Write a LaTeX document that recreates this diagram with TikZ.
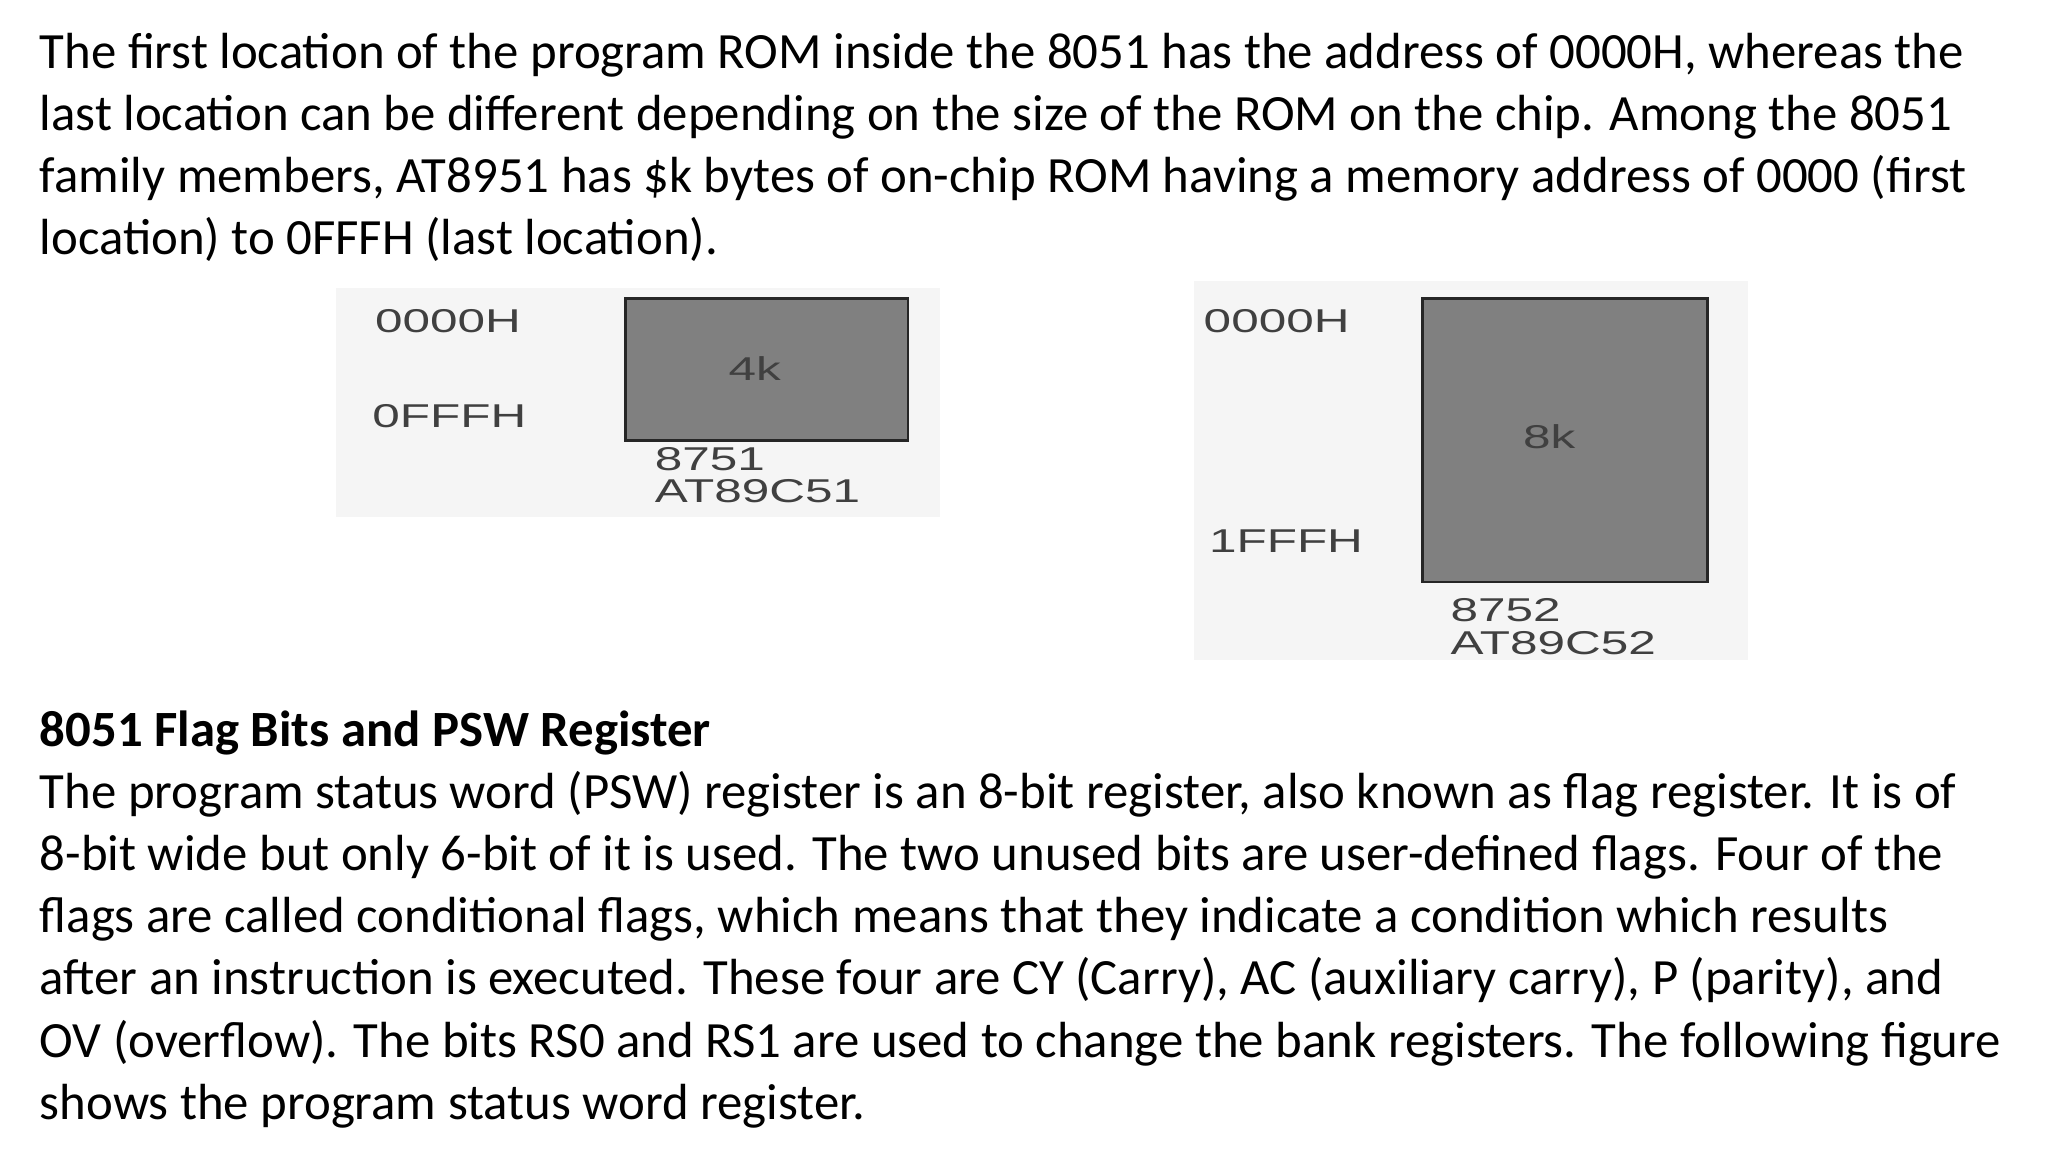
\documentclass[tikz,border=0pt]{standalone}
\usepackage{fontspec}
\setmainfont{Carlito}
\newfontfamily\lab{Liberation Sans}
\newcommand{\widelbl}[1]{\scalebox{1.5}[1]{#1}}
\begin{document}
\begin{tikzpicture}[x=1pt,y=-1pt,
  txt/.style={anchor=base west,inner sep=0pt,font=\fontsize{38.5}{44}\selectfont},
  lbl/.style={anchor=west,inner sep=1pt,font=\lab\fontsize{25}{27}\selectfont,text=black!75,fill=black!4},
  rom/.style={draw=black!85,line width=2pt,fill=black!50}]
\useasboundingbox (0,0) rectangle (1552,873);
\node[txt] (l1) at (30,52) {The first location of the program ROM inside the 8051 has the address of 0000H, whereas the};
\node[txt] (l2) at (30,99) {last location can be different depending on the size of the ROM on the chip. Among the 8051};
\node[txt] (l3) at (30,146) {family members, AT8951 has \$k bytes of on-chip ROM having a memory address of 0000 (first};
\node[txt] (l4) at (30,193) {location) to 0FFFH (last location).};
% left ROM
\fill[black!4] (255,218) rectangle (712,392);
\draw[rom] (474,226) rectangle (688,334);
\node[lbl] (a1) at (283,243) {\widelbl{0000H}};
\node[lbl] (a2) at (281,315) {\widelbl{0FFFH}};
\node[lbl,fill=none] (a3) at (551,279) {\widelbl{4k}};
\node[lbl,fill=none] (a4) at (495,348) {\widelbl{8751}};
\node[lbl,fill=none] (a5) at (495,372) {\widelbl{AT89C51}};
% right ROM
\fill[black!4] (905,213) rectangle (1325,500);
\draw[rom] (1078,226) rectangle (1294,441);
\node[lbl] (b1) at (911,243) {\widelbl{0000H}};
\node[lbl,fill=none] (b2) at (1153,331) {\widelbl{8k}};
\node[lbl] (b3) at (915,410) {\widelbl{1FFFH}};
\node[lbl,fill=none] (b4) at (1098,462) {\widelbl{8752}};
\node[lbl,fill=none] (b5) at (1098,487) {\widelbl{AT89C52}};
% second part
\node[txt,font=\bfseries\fontsize{38.5}{44}\selectfont] (h) at (30,566) {8051 Flag Bits and PSW Register};
\node[txt] (p1) at (30,613) {The program status word (PSW) register is an 8-bit register, also known as flag register. It is of};
\node[txt] (p2) at (30,660) {8-bit wide but only 6-bit of it is used. The two unused bits are user-defined flags. Four of the};
\node[txt] (p3) at (30,707) {flags are called conditional flags, which means that they indicate a condition which results};
\node[txt] (p4) at (30,754) {after an instruction is executed. These four are CY (Carry), AC (auxiliary carry), P (parity), and};
\node[txt] (p5) at (30,801) {OV (overflow). The bits RS0 and RS1 are used to change the bank registers. The following figure};
\node[txt] (p6) at (30,848) {shows the program status word register.};
\end{tikzpicture}
\end{document}
